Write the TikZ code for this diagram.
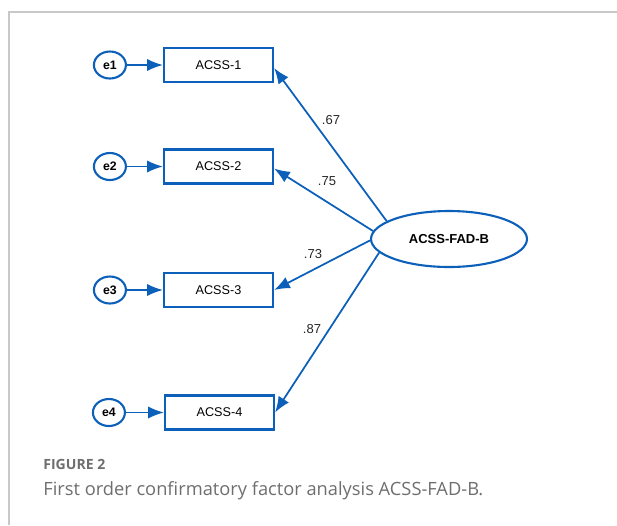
\documentclass[tikz,border=0pt]{standalone}
\usepackage{fontspec}
\newfontfamily\amosfont{Liberation Sans}
\newfontfamily\capfont{Open Sans}
\usetikzlibrary{arrows.meta,shapes.geometric,positioning}
\definecolor{amosblue}{RGB}{12,96,186}
\definecolor{framegray}{RGB}{200,200,200}
\definecolor{capgray}{RGB}{110,110,110}
\tikzset{
    obs/.style={draw=amosblue, line width=1.2pt, rectangle, minimum width=2.18cm, minimum height=0.68cm, inner sep=0pt, font=\amosfont\fontsize{7.2}{8}\selectfont},
    err/.style={draw=amosblue, line width=1.2pt, ellipse, minimum width=0.64cm, minimum height=0.54cm, inner sep=0pt, font=\amosfont\bfseries\fontsize{7}{8}\selectfont},
    latent/.style={draw=amosblue, line width=1.2pt, ellipse, minimum width=3.12cm, minimum height=1.12cm, inner sep=0pt, font=\amosfont\bfseries\fontsize{7.4}{8}\selectfont},
    load/.style={-{Latex[length=9pt, width=7pt]}, line width=1pt, amosblue},
    coef/.style={font=\amosfont\fontsize{7.4}{8}\selectfont, text=black!85, inner sep=0pt}
}

\begin{document}
\begin{tikzpicture}[x=0.02cm, y=-0.02cm]
                \useasboundingbox (0,0) rectangle (617,525);
                \draw[framegray, line width=0.9pt] (9,525) -- (9,12) -- (617,12);
                \node[obs] (x1) at (218.5,65) {ACSS-1};
                \node[obs] (x2) at (218.5,166.5) {ACSS-2};
                \node[obs] (x3) at (218.5,290) {ACSS-3};
                \node[obs] (x4) at (219.5,412.5) {ACSS-4};
                \node[err, left=0.72cm of x1] (e1) {e1};
                \node[err, left=0.72cm of x2] (e2) {e2};
                \node[err, left=0.72cm of x3] (e3) {e3};
                \node[err, left=0.76cm of x4] (e4) {e4};
                \node[latent] (fad) at (449,239) {ACSS-FAD-B};
                \draw[load] (e1) -- (x1);
                \draw[load] (e2) -- (x2);
                \draw[load] (e3) -- (x3);
                \draw[load] (e4) -- (x4);
                \draw[load] (fad.164) -- ([yshift=-0.06cm]x1.east);
                \draw[load] (fad.174) -- ([yshift=-0.04cm]x2.east);
                \draw[load] (fad.181) -- (x3.east);
                \draw[load] (fad.191) -- (x4.east);
                \node[coef] (l1) at (331,120) {.67};
                \node[coef] (l2) at (327,181) {.75};
                \node[coef] (l3) at (313,254) {.73};
                \node[coef] (l4) at (312,329) {.87};
                \node[anchor=base west, inner sep=0pt, text=capgray, font=\capfont\bfseries\fontsize{8}{9}\selectfont] (fig) at (43,469) {FIGURE 2};
                \node[anchor=base west, inner sep=0pt, text=capgray, font=\capfont\fontsize{10.4}{12}\selectfont] (cap) at (43,495) {First order confirmatory factor analysis ACSS-FAD-B.};
            \end{tikzpicture}
\end{document}
